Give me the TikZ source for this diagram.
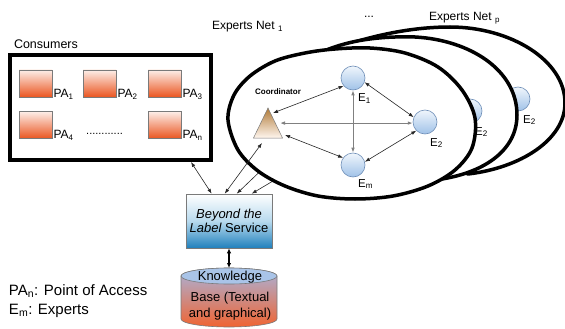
\documentclass[tikz,border=0pt]{standalone}
\usepackage{fontspec}
\setmainfont{Liberation Sans}
\usetikzlibrary{arrows.meta,calc}

\definecolor{paTop}{HTML}{FDEEE8}
\definecolor{paBot}{HTML}{EA5520}
\definecolor{svcMid}{HTML}{B8DAEE}
\definecolor{svcBot}{HTML}{2080BC}
\definecolor{kbCap}{HTML}{A9C4E8}
\definecolor{kbTop}{HTML}{A8B4DC}
\definecolor{kbMid}{HTML}{D49AAE}
\definecolor{kbBot}{HTML}{F06432}
\definecolor{exTop}{HTML}{F0F6FC}
\definecolor{exBot}{HTML}{A0C2E8}
\definecolor{exLine}{HTML}{6F8FB8}
\definecolor{triTop}{HTML}{B07A38}
\definecolor{triBot}{HTML}{FFF6EE}
\definecolor{boxLine}{HTML}{7A7A7A}

\tikzset{
  txt/.style={inner sep=0pt, outer sep=0pt, font=\fontsize{12.5}{15}\selectfont},
  pabox/.style={draw=boxLine, line width=0.6pt, top color=paTop, bottom color=paBot,
    minimum width=33pt, minimum height=27pt, inner sep=0pt},
  palabel/.style={inner sep=0pt, font=\fontsize{12}{14}\selectfont, anchor=base west},
  expert/.style={circle, draw=exLine, line width=0.6pt, top color=exTop, bottom color=exBot,
    minimum size=24pt, inner sep=0pt},
  elabel/.style={inner sep=0pt, font=\fontsize{11.5}{13}\selectfont, anchor=base west},
  netline/.style={draw=black, line width=3.5pt, fill=white, line join=round},
  tipa/.tip={Latex[length=5pt,width=3.6pt]},
  dbl/.style={tipa-tipa, line width=0.6pt, draw=black!85},
  dblgray/.style={tipa-tipa, line width=1pt, draw=black!50},
  kbarrow/.style={{Latex[length=5pt,width=4.5pt]}-{Latex[length=5pt,width=4.5pt]}, line width=1.2pt},
}

\begin{document}
\begin{tikzpicture}[x=1pt,y=-1pt]
\useasboundingbox (0,0) rectangle (565,329);

% ---------- consumers ----------
\node[txt, anchor=west] (constitle) at (14,44) {Consumers};
\node[draw, line width=4pt, minimum width=201pt, minimum height=105pt, inner sep=0pt] (cons) at (110.5,107.5) {};
\node[pabox] (pa1) at (35.5,83.5) {};
\node[pabox] (pa2) at (99.5,83.5) {};
\node[pabox] (pa3) at (164.5,83.5) {};
\node[pabox] (pa4) at (35.5,125) {};
\node[pabox] (pan) at (164.5,125) {};
\node[palabel] (pa1l) at ($(pa1.south east)+(1,0)$) {PA\textsubscript{1}};
\node[palabel] (pa2l) at ($(pa2.south east)+(1,0)$) {PA\textsubscript{2}};
\node[palabel] (pa3l) at ($(pa3.south east)+(1,0)$) {PA\textsubscript{3}};
\node[palabel] (pa4l) at ($(pa4.south east)+(1,0)$) {PA\textsubscript{4}};
\node[palabel] (panl) at ($(pan.south east)+(1,0)$) {PA\textsubscript{n}};
\node[inner sep=0pt, font=\fontsize{11}{13}\selectfont, anchor=base west] (padots) at (86,134) {............};

% ---------- titles of the expert nets ----------
\node[txt, anchor=west, font=\fontsize{12}{14}\selectfont] (net1t) at (212,27) {Experts Net \textsubscript{1}};
\node[txt, font=\fontsize{12}{14}\selectfont] (netdots) at (369,17) {...};
\node[txt, anchor=west, font=\fontsize{12}{14}\selectfont] (netpt) at (429,18) {Experts Net \textsubscript{p}};

% ---------- back nets ----------
\path[netline] (330,50) .. controls (370,36) and (410,27) .. (450,27)
  .. controls (510,27) and (565,60) .. (565,103)
  .. controls (565,140) and (520,168) .. (468,174) -- (400,140) -- cycle;
\node[expert] (e2c) at (518,99) {};
\node[elabel] (e2cl) at ($(e2c)+(5,24)$) {E\textsubscript{2}};

\path[netline] (324,51) .. controls (350,40) and (380,36) .. (415,37)
  .. controls (470,40) and (517,70) .. (517,115)
  .. controls (517,150) and (485,172) .. (442,179) -- (380,130) -- cycle;
\node[expert] (e2b) at (470,111) {};
\node[elabel] (e2bl) at ($(e2b)+(5,24)$) {E\textsubscript{2}};

% links coming from the nets behind
\coordinate (net2link) at (272,160);
\coordinate (net3link) at (288,172);

% ---------- service box ----------
\node[draw=boxLine, line width=0.6pt, top color=white, bottom color=svcBot, middle color=svcMid,
  minimum width=86pt, minimum height=54pt, inner sep=0pt, align=center,
  font=\fontsize{13}{15}\selectfont] (svc) at (229,221)
  {\itshape Beyond the\\[-0.5pt]{\itshape Label} Service};

\draw[dbl] (net2link) -- ($(svc.north west)+(51,0)$);
\draw[dbl] (net3link) -- ($(svc.north west)+(66,0)$);

% ---------- front net ----------
\path[netline] plot[smooth cycle, tension=0.55] coordinates {
  (228,120) (234,95) (250,76) (275,61) (305,53) (335,49) (370,48) (405,53)
  (438,67) (462,90) (475,118) (472,148) (455,170) (428,186) (393,196)
  (355,199) (318,196) (285,186) (258,171) (238,150)};

\node[expert] (e1) at (353,78) {};
\node[expert] (e2) at (425,122) {};
\node[expert] (em) at (353,165) {};
\node[elabel] (e1l) at ($(e1)+(5,24)$) {E\textsubscript{1}};
\node[elabel] (e2l) at ($(e2)+(5,24)$) {E\textsubscript{2}};
\node[elabel] (eml) at ($(em)+(5,22)$) {E\textsubscript{m}};

\coordinate (tri) at (268,108);
\shade[top color=triTop, bottom color=triBot, draw=boxLine, line width=0.5pt]
  (tri) -- ++(14.5,30) -- ++(-29,0) -- cycle;
\node[inner sep=0pt, font=\bfseries\fontsize{8}{9.6}\selectfont] (coordl) at (278,92) {Coordinator};

\draw[dbl] ($(tri)+(5,5)$) -- (e1.220);
\draw[dblgray] ($(e2.185 -| tri)+(12,0)$) -- (e2.185);
\draw[dbl] ($(tri)+(17,27)$) -- (em.144);
\draw[dbl] (e1.-20) -- (e2.157);
\draw[dblgray] (e1.south) -- (em.north);
\draw[dbl] (e2.225) -- (em.15);

% ---------- links to the service ----------
\draw[dbl] ($(cons.south east)+(-22,0)$) -- ($(svc.north west)+(26,0)$);
\draw[dbl] ($(tri)+(-6,35)$) -- ($(svc.north west)+(39,0)$);

% ---------- knowledge base ----------
\node[minimum width=96pt, minimum height=60pt, inner sep=0pt, outer sep=0pt] (kb) at (229,298) {};
\shade[top color=kbTop, middle color=kbMid, bottom color=kbBot, draw=boxLine, line width=0.6pt]
  (181,276) -- (181,319) arc[start angle=180, end angle=0, x radius=48, y radius=8]
  -- (277,276) arc[start angle=0, end angle=-180, x radius=48, y radius=8] -- cycle;
\draw[fill=kbCap, draw=boxLine, line width=0.6pt] (229,276) ellipse[x radius=48, y radius=8];
\node[txt, font=\fontsize{13}{15}\selectfont] (kbl1) at (230,277) {Knowledge};
\node[txt, font=\fontsize{13}{15}\selectfont] (kbl2) at (230,298) {Base (Textual};
\node[txt, font=\fontsize{13}{15}\selectfont] (kbl3) at (230,314) {and graphical)};
\draw[kbarrow] (svc.south) -- (kb.north);

% ---------- legend ----------
\node[txt, anchor=west, font=\fontsize{15}{17}\selectfont] (leg1) at (9,291) {PA\textsubscript{n}: Point of Access};
\node[txt, anchor=west, font=\fontsize{15}{17}\selectfont] (leg2) at (9,311) {E\textsubscript{m}: Experts};
\end{tikzpicture}
\end{document}
